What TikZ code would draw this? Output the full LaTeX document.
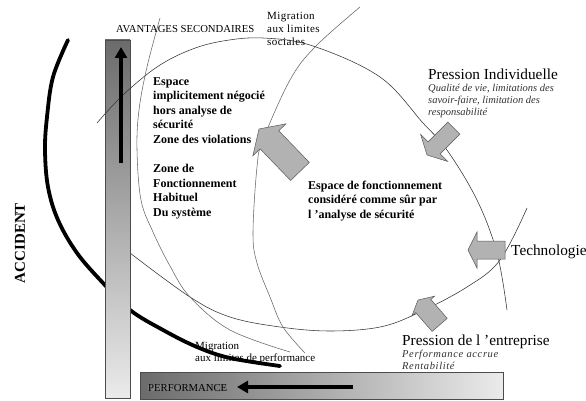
\documentclass[tikz,border=0pt]{standalone}
\usepackage{fontspec}
\setmainfont{Liberation Serif}
\usetikzlibrary{arrows.meta}
\newcommand{\blockarr}[6]{%
  \draw[blockarrow, shift={#1}, rotate=#2] (0,0) -- (-#4,#5/2) -- (-#4,#6/2) -- (-#3,#6/2) -- (-#3,-#6/2) -- (-#4,-#6/2) -- (-#4,-#5/2) -- cycle;}
\begin{document}
\begin{tikzpicture}[x=1pt,y=-1pt,
  curve/.style={line width=0.55pt, draw=black!80},
  curvelight/.style={line width=0.55pt, draw=black!60},
  blockarrow/.style={fill=black!30, draw=black!65, line width=0.5pt},
  boldtxt/.style={font=\fontsize{12}{14.5}\selectfont\bfseries, align=left, anchor=base west, inner sep=0pt},
  bigtxt/.style={font=\fontsize{15.3}{18}\selectfont, anchor=base west, inner sep=0pt},
  ittxt/.style={font=\fontsize{10.5}{12.2}\selectfont\itshape, align=left, anchor=base west, inner sep=0pt, text=black!80},
  smalltxt/.style={font=\fontsize{11}{13}\selectfont\addfontfeature{LetterSpace=4}, align=left, anchor=base west, inner sep=0pt},
  captxt/.style={font=\fontsize{10.7}{12}\selectfont, anchor=base west, inner sep=0pt}]
\fill[white] (0,0) rectangle (586,401);
\useasboundingbox (0,0) rectangle (586,401);

% thick accident arc
\draw[line width=3.8pt, line cap=round] plot[smooth, tension=0.6] coordinates {(68,40) (53,77) (47,117) (45,150) (48,187) (58,220) (77,253) (103,283) (130,310) (163,330) (197,347) (230,358) (280,366)};

% thin curves
\draw[curve] plot[smooth, tension=0.6] coordinates {(527,208) (500,260) (467,287) (418,313) (380,327) (330,331) (280,327) (230,317) (190,297) (130,253)};
\draw[curvelight] plot[smooth, tension=0.6] coordinates {(160,18) (147,67) (139,110) (137,150) (141,200) (153,232) (170,266) (190,297) (230,330) (290,352)};
\draw[curvelight] plot[smooth, tension=0.6] coordinates {(360,7) (315,47) (290,80) (263,140) (257,167) (253,233) (257,263) (270,297) (283,327) (305,353)};

% bars
\shade[top color=black!58, bottom color=black!8, draw=black!70, line width=0.5pt] (105,40) rectangle (130,398);
\shade[left color=black!58, right color=black!8, draw=black!70, line width=0.5pt] (140,372) rectangle (503,399);

% big loop curve over the bar
\draw[curve] plot[smooth, tension=0.6] coordinates {(97,123) (123,95) (157,67) (190,50) (223,41) (263,38) (313,46) (380,77) (423,123) (447,150) (477,200) (497,253) (507,310)};

% bar arrows
\coordinate (va1) at (121,163);
\coordinate (va2) at (121,47);
\draw[line width=4pt, -{Triangle[length=11pt,width=12pt]}] (va1) -- (va2);
\node[captxt, fill=black!50] (perf) at (148,391) {PERFORMANCE};
\coordinate (ha1) at (353,387);
\coordinate (ha2) at (237,387);
\draw[line width=4pt, -{Triangle[length=11pt,width=12pt]}] (ha1) -- (ha2);

% block arrows
\blockarr{(259,129)}{134}{59}{15}{46}{26}
\blockarr{(427,155)}{225}{38}{10}{38}{17}
\blockarr{(468,250)}{180}{37}{9}{36}{18}
\blockarr{(418,300)}{131}{33}{8}{30}{20}

% texts (multi-line nodes: base = baseline of last line)
\node[captxt] (avs) at (116,33) {AVANTAGES SECONDAIRES};
\node[font=\fontsize{15}{18}\selectfont\bfseries, rotate=90, inner sep=0pt] (acc) at (20,243) {ACCIDENT};
\node[smalltxt] (migs) at (267,46) {Migration\\aux limites\\sociales};
\node[smalltxt, font=\fontsize{11}{11.5}\selectfont] (migp) at (195,361) {Migration\\aux limites de performance};
\node[boldtxt] (esp1) at (153,143) {Espace\\implicitement négocié\\hors analyse de\\sécurité\\Zone des violations};
\node[boldtxt] (zone) at (153,216) {Zone de\\Fonctionnement\\Habituel\\Du système};
\node[boldtxt] (esp2) at (308,218) {Espace de fonctionnement\\considéré comme sûr par\\l 'analyse de sécurité};
\node[bigtxt] (pind) at (428,80) {Pression Individuelle};
\node[ittxt] (pindt) at (428,116) {Qualité de vie, limitations des\\savoir-faire, limitation des\\responsabilité};
\node[bigtxt] (tech) at (511,255) {Technologie};
\node[bigtxt] (pent) at (402,345) {Pression de l 'entreprise};
\node[ittxt, font=\fontsize{10.5}{12}\selectfont\itshape\addfontfeature{LetterSpace=6}] (pentt) at (402,369) {Performance accrue\\Rentabilité};
\end{tikzpicture}
\end{document}
